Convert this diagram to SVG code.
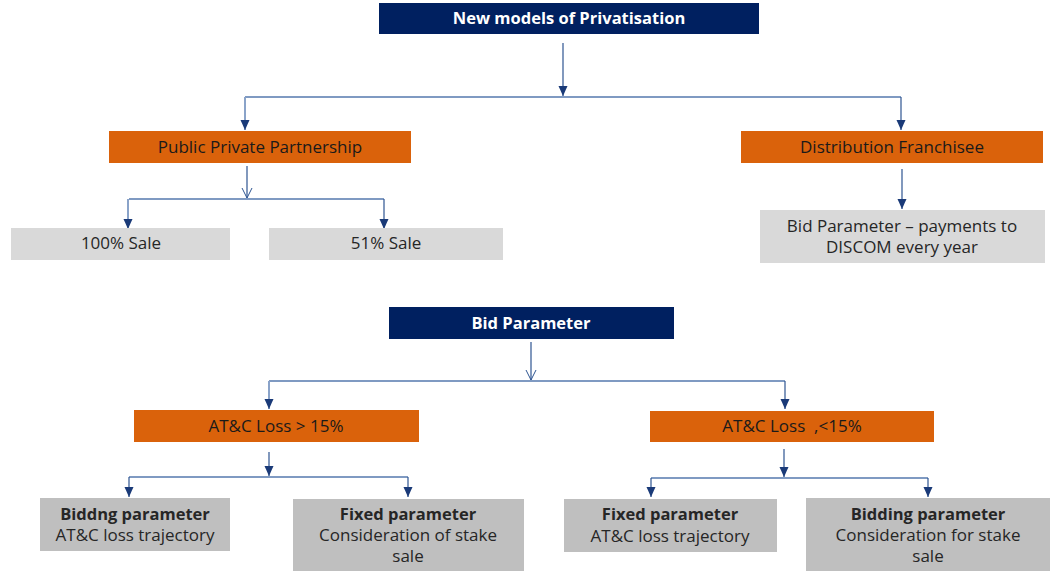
<svg xmlns="http://www.w3.org/2000/svg" width="1056" height="571" viewBox="0 0 1056 571">
<style>
.navy{fill:#002060}
.orange{fill:#DA620B}
.lg{fill:#D9D9D9}
.mg{fill:#BFBFBF}
text{font-family:"Open Sans","Liberation Sans",sans-serif;text-anchor:middle;font-size:17px}
.wt{fill:#FFFFFF;font-weight:bold;font-size:16.5px}
.dk{fill:#1A1A1A}
.gt{fill:#262626}
.b{font-weight:bold;font-size:16.5px}
.bus{fill:none;stroke:#7F9AC2;stroke-width:2}
.thin{fill:none;stroke:#2E5491;stroke-width:1.2}
.drop{fill:none;stroke:#8AA3C9;stroke-width:2}
</style>
<defs>
<marker id="s" markerUnits="userSpaceOnUse" markerWidth="11" markerHeight="11" refX="10" refY="5.5" orient="auto" viewBox="0 0 11 11">
<path d="M0,1 L10,5.5 L0,10 Z" fill="#1A3A78"/>
</marker>
<marker id="v" markerUnits="userSpaceOnUse" markerWidth="12" markerHeight="12" refX="10" refY="6" orient="auto" viewBox="0 0 12 12">
<path d="M0,1 L10,6 L0,11" fill="none" stroke="#2E5491" stroke-width="1"/>
</marker>
</defs>

<g id="connectors">
<path class="thin" d="M563,43 V96" marker-end="url(#s)"/>
<path class="bus" d="M245,97 H901"/>
<path class="drop" d="M245,97 V122"/>
<path class="thin" d="M245,120 V130" marker-end="url(#s)"/>
<path class="thin" d="M901,97 V130" marker-end="url(#s)"/>

<path class="thin" d="M247,166 V198" marker-end="url(#v)"/>
<path class="bus" d="M129,199 H384"/>
<path class="drop" d="M128,199 V222"/>
<path class="thin" d="M128,220 V229" marker-end="url(#s)"/>
<path class="thin" d="M384,199 V229" marker-end="url(#s)"/>

<path class="thin" d="M902,169 V209" marker-end="url(#s)"/>

<path class="thin" d="M531,342 V380" marker-end="url(#v)"/>
<path class="bus" d="M269,381 H785"/>
<path class="drop" d="M269,381 V402"/>
<path class="thin" d="M269,400 V409" marker-end="url(#s)"/>
<path class="thin" d="M785,381 V409" marker-end="url(#s)"/>

<path class="thin" d="M269,452 V476" marker-end="url(#s)"/>
<path class="bus" d="M129,477 H408"/>
<path class="thin" d="M129,477 V497" marker-end="url(#s)"/>
<path class="thin" d="M408,477 V497" marker-end="url(#s)"/>

<path class="thin" d="M784,449 V477" marker-end="url(#s)"/>
<path class="bus" d="M651,478 H928"/>
<path class="thin" d="M651,478 V497" marker-end="url(#s)"/>
<path class="thin" d="M928,478 V497" marker-end="url(#s)"/>
</g>

<g id="node-new-models">
<rect class="navy" x="379" y="3" width="380" height="31"/>
<text class="wt" x="569" y="24">New models of Privatisation</text>
</g>

<g id="node-ppp">
<rect class="orange" x="109" y="131" width="302" height="32"/>
<text class="dk" x="260" y="153">Public Private Partnership</text>
</g>

<g id="node-df">
<rect class="orange" x="741" y="131" width="302" height="32"/>
<text class="dk" x="892" y="153">Distribution Franchisee</text>
</g>

<g id="node-100">
<rect class="lg" x="11" y="228" width="219" height="32"/>
<text class="gt" x="121" y="249">100% Sale</text>
</g>

<g id="node-51">
<rect class="lg" x="269" y="228" width="234" height="32"/>
<text class="gt" x="386" y="249">51% Sale</text>
</g>

<g id="node-df-bid">
<rect class="lg" x="760" y="210" width="285" height="53"/>
<text class="gt" x="902" y="232">Bid Parameter – payments to</text>
<text class="gt" x="902" y="253">DISCOM every year</text>
</g>

<g id="node-bid-parameter">
<rect class="navy" x="389" y="307" width="285" height="32"/>
<text class="wt" x="531" y="329">Bid Parameter</text>
</g>

<g id="node-atc-gt15">
<rect class="orange" x="134" y="410" width="285" height="32"/>
<text class="dk" x="276" y="432">AT&amp;C Loss &gt; 15%</text>
</g>

<g id="node-atc-lt15">
<rect class="orange" x="650" y="411" width="284" height="31"/>
<text class="dk" x="792" y="432" xml:space="preserve">AT&amp;C Loss  ,&lt;15%</text>
</g>

<g id="node-bidding-1">
<rect class="mg" x="40" y="498" width="190" height="53"/>
<text class="gt b" x="135" y="520">Biddng parameter</text>
<text class="gt" x="135" y="541">AT&amp;C loss trajectory</text>
</g>

<g id="node-fixed-1">
<rect class="mg" x="293" y="499" width="231" height="72"/>
<text class="gt b" x="408" y="520">Fixed parameter</text>
<text class="gt" x="408" y="541">Consideration of stake</text>
<text class="gt" x="408" y="562">sale</text>
</g>

<g id="node-fixed-2">
<rect class="mg" x="564" y="499" width="213" height="53"/>
<text class="gt b" x="670" y="520">Fixed parameter</text>
<text class="gt" x="670" y="542">AT&amp;C loss trajectory</text>
</g>

<g id="node-bidding-2">
<rect class="mg" x="806" y="498" width="244" height="73"/>
<text class="gt b" x="928" y="520">Bidding parameter</text>
<text class="gt" x="928" y="541">Consideration for stake</text>
<text class="gt" x="928" y="562">sale</text>
</g>
</svg>
